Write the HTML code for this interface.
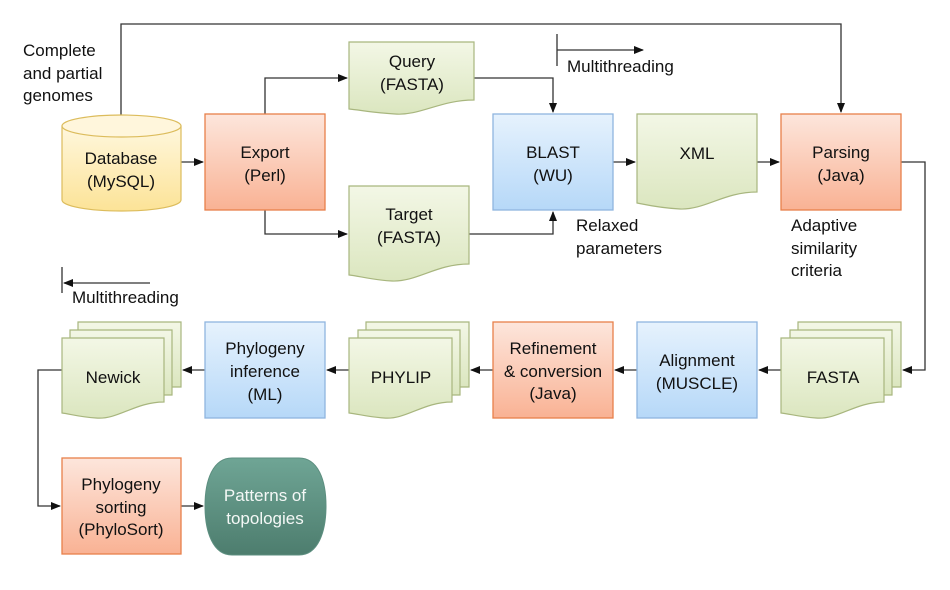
<!DOCTYPE html>
<html><head><meta charset="utf-8"><style>
html,body{margin:0;padding:0;background:#fff;}
svg{display:block;}
text{font-family:"Liberation Sans",sans-serif;font-size:17px;fill:#111;}
</style></head><body>
<svg width="950" height="590" viewBox="0 0 950 590" xmlns="http://www.w3.org/2000/svg">
<defs>
<linearGradient id="or" x1="0" y1="0" x2="0" y2="1"><stop offset="0" stop-color="#fde6dc"/><stop offset="1" stop-color="#f9b294"/></linearGradient>
<linearGradient id="bl" x1="0" y1="0" x2="0" y2="1"><stop offset="0" stop-color="#e6f2fd"/><stop offset="1" stop-color="#b6d8f8"/></linearGradient>
<linearGradient id="gr" x1="0" y1="0" x2="0" y2="1"><stop offset="0" stop-color="#f3f7e6"/><stop offset="1" stop-color="#dbe6bf"/></linearGradient>
<linearGradient id="ye" x1="0" y1="0" x2="0" y2="1"><stop offset="0" stop-color="#fff7dd"/><stop offset="1" stop-color="#fce397"/></linearGradient>
<linearGradient id="te" x1="0" y1="0" x2="0" y2="1"><stop offset="0" stop-color="#6fa595"/><stop offset="1" stop-color="#4d7d6e"/></linearGradient>
<marker id="ar" markerWidth="10" markerHeight="8" refX="9" refY="4" orient="auto" markerUnits="userSpaceOnUse"><path d="M0,0 L10,4 L0,8 Z" fill="#111"/></marker>
</defs>
<g stroke="#333" stroke-width="1.3" fill="none">
<path d="M121,115 V24 H841 V112" marker-end="url(#ar)"/>
<path d="M181,162 H203" marker-end="url(#ar)"/>
<path d="M265,114 V78 H347" marker-end="url(#ar)"/>
<path d="M265,210 V234 H347" marker-end="url(#ar)"/>
<path d="M474,78 H553 V112" marker-end="url(#ar)"/>
<path d="M469,234 H553 V212" marker-end="url(#ar)"/>
<path d="M613,162 H635" marker-end="url(#ar)"/>
<path d="M757,162 H779" marker-end="url(#ar)"/>
<path d="M901,162 H925 V370 H903" marker-end="url(#ar)"/>
<path d="M781,370 H759" marker-end="url(#ar)"/>
<path d="M637,370 H615" marker-end="url(#ar)"/>
<path d="M493,370 H471" marker-end="url(#ar)"/>
<path d="M349,370 H327" marker-end="url(#ar)"/>
<path d="M205,370 H183" marker-end="url(#ar)"/>
<path d="M62,370 H38 V506 H60" marker-end="url(#ar)"/>
<path d="M181,506 H203" marker-end="url(#ar)"/>
<path d="M557,34 V66 M557,50 H643" marker-end="url(#ar)"/>
<path d="M62,267 V293 M150,283 H64" marker-end="url(#ar)"/>
</g>
<path d="M62,126 V200 A59.5,11 0 0 0 181,200 V126" fill="url(#ye)" stroke="#dcbc5c" stroke-width="1.2"/>
<ellipse cx="121.5" cy="126" rx="59.5" ry="11" fill="#fff6dc" stroke="#dcbc5c" stroke-width="1.2"/>
<g stroke-width="1.3">
<rect x="205" y="114" width="120" height="96" fill="url(#or)" stroke="#e8804a"/>
<rect x="493" y="114" width="120" height="96" fill="url(#bl)" stroke="#8fb5df"/>
<rect x="781" y="114" width="120" height="96" fill="url(#or)" stroke="#e8804a"/>
<rect x="205" y="322" width="120" height="96" fill="url(#bl)" stroke="#8fb5df"/>
<rect x="493" y="322" width="120" height="96" fill="url(#or)" stroke="#e8804a"/>
<rect x="637" y="322" width="120" height="96" fill="url(#bl)" stroke="#8fb5df"/>
<rect x="62" y="458" width="119" height="96" fill="url(#or)" stroke="#e8804a"/>
</g>
<path d="M232,458 H299 C318,458 326,480 326,506 C326,532 318,555 299,555 H232 C213,555 205,532 205,506 C205,480 213,458 232,458 Z" fill="url(#te)" stroke="#5d8f80"/>
<g stroke="#a8b67e" stroke-width="1.2" fill="url(#gr)">
<path d="M349,42 H474 V100 C440,100 420,116 395,114 C375,113 360,110 349,109 Z"/>
<path d="M349,186 H469 V264 C436,264 417,282 392,281 C372,280 359,276 349,275 Z"/>
<path d="M637,114 H757 V192 C724,192 705,210 680,209 C660,208 647,205 637,203 Z"/>
<path d="M78,322 H181 V387 L78,387 Z"/>
<path d="M70,330 H172 V395 L70,395 Z"/>
<path d="M62,338 H164 V402 C135,402 118,420 96,418 C80,417 70,414 62,413 Z"/>
<path d="M366,322 H469 V387 L366,387 Z"/>
<path d="M358,330 H460 V395 L358,395 Z"/>
<path d="M349,338 H452 V402 C423,402 406,420 384,418 C368,417 358,414 349,413 Z"/>
<path d="M798,322 H901 V387 L798,387 Z"/>
<path d="M790,330 H892 V395 L790,395 Z"/>
<path d="M781,338 H884 V402 C855,402 838,420 816,418 C800,417 790,414 781,413 Z"/>
</g>
<g text-anchor="middle">
<text x="121" y="164">Database</text><text x="121" y="187">(MySQL)</text>
<text x="265" y="158">Export</text><text x="265" y="181">(Perl)</text>
<text x="412" y="67">Query</text><text x="412" y="90">(FASTA)</text>
<text x="409" y="220">Target</text><text x="409" y="243">(FASTA)</text>
<text x="553" y="158">BLAST</text><text x="553" y="181">(WU)</text>
<text x="697" y="159">XML</text>
<text x="841" y="158">Parsing</text><text x="841" y="181">(Java)</text>
<text x="113" y="383">Newick</text>
<text x="265" y="354">Phylogeny</text><text x="265" y="377">inference</text><text x="265" y="400">(ML)</text>
<text x="401" y="383">PHYLIP</text>
<text x="553" y="354">Refinement</text><text x="553" y="377">&amp; conversion</text><text x="553" y="399">(Java)</text>
<text x="697" y="366">Alignment</text><text x="697" y="389">(MUSCLE)</text>
<text x="833" y="383">FASTA</text>
<text x="121" y="490">Phylogeny</text><text x="121" y="513">sorting</text><text x="121" y="535">(PhyloSort)</text>
<text x="265" y="501" style="fill:#f4f8f6">Patterns of</text><text x="265" y="524" style="fill:#f4f8f6">topologies</text>
</g>
<text x="23" y="56">Complete</text><text x="23" y="79">and partial</text><text x="23" y="101">genomes</text>
<text x="567" y="72">Multithreading</text>
<text x="576" y="231">Relaxed</text><text x="576" y="254">parameters</text>
<text x="791" y="231">Adaptive</text><text x="791" y="254">similarity</text><text x="791" y="276">criteria</text>
<text x="72" y="303">Multithreading</text>
</svg>
</body></html>
